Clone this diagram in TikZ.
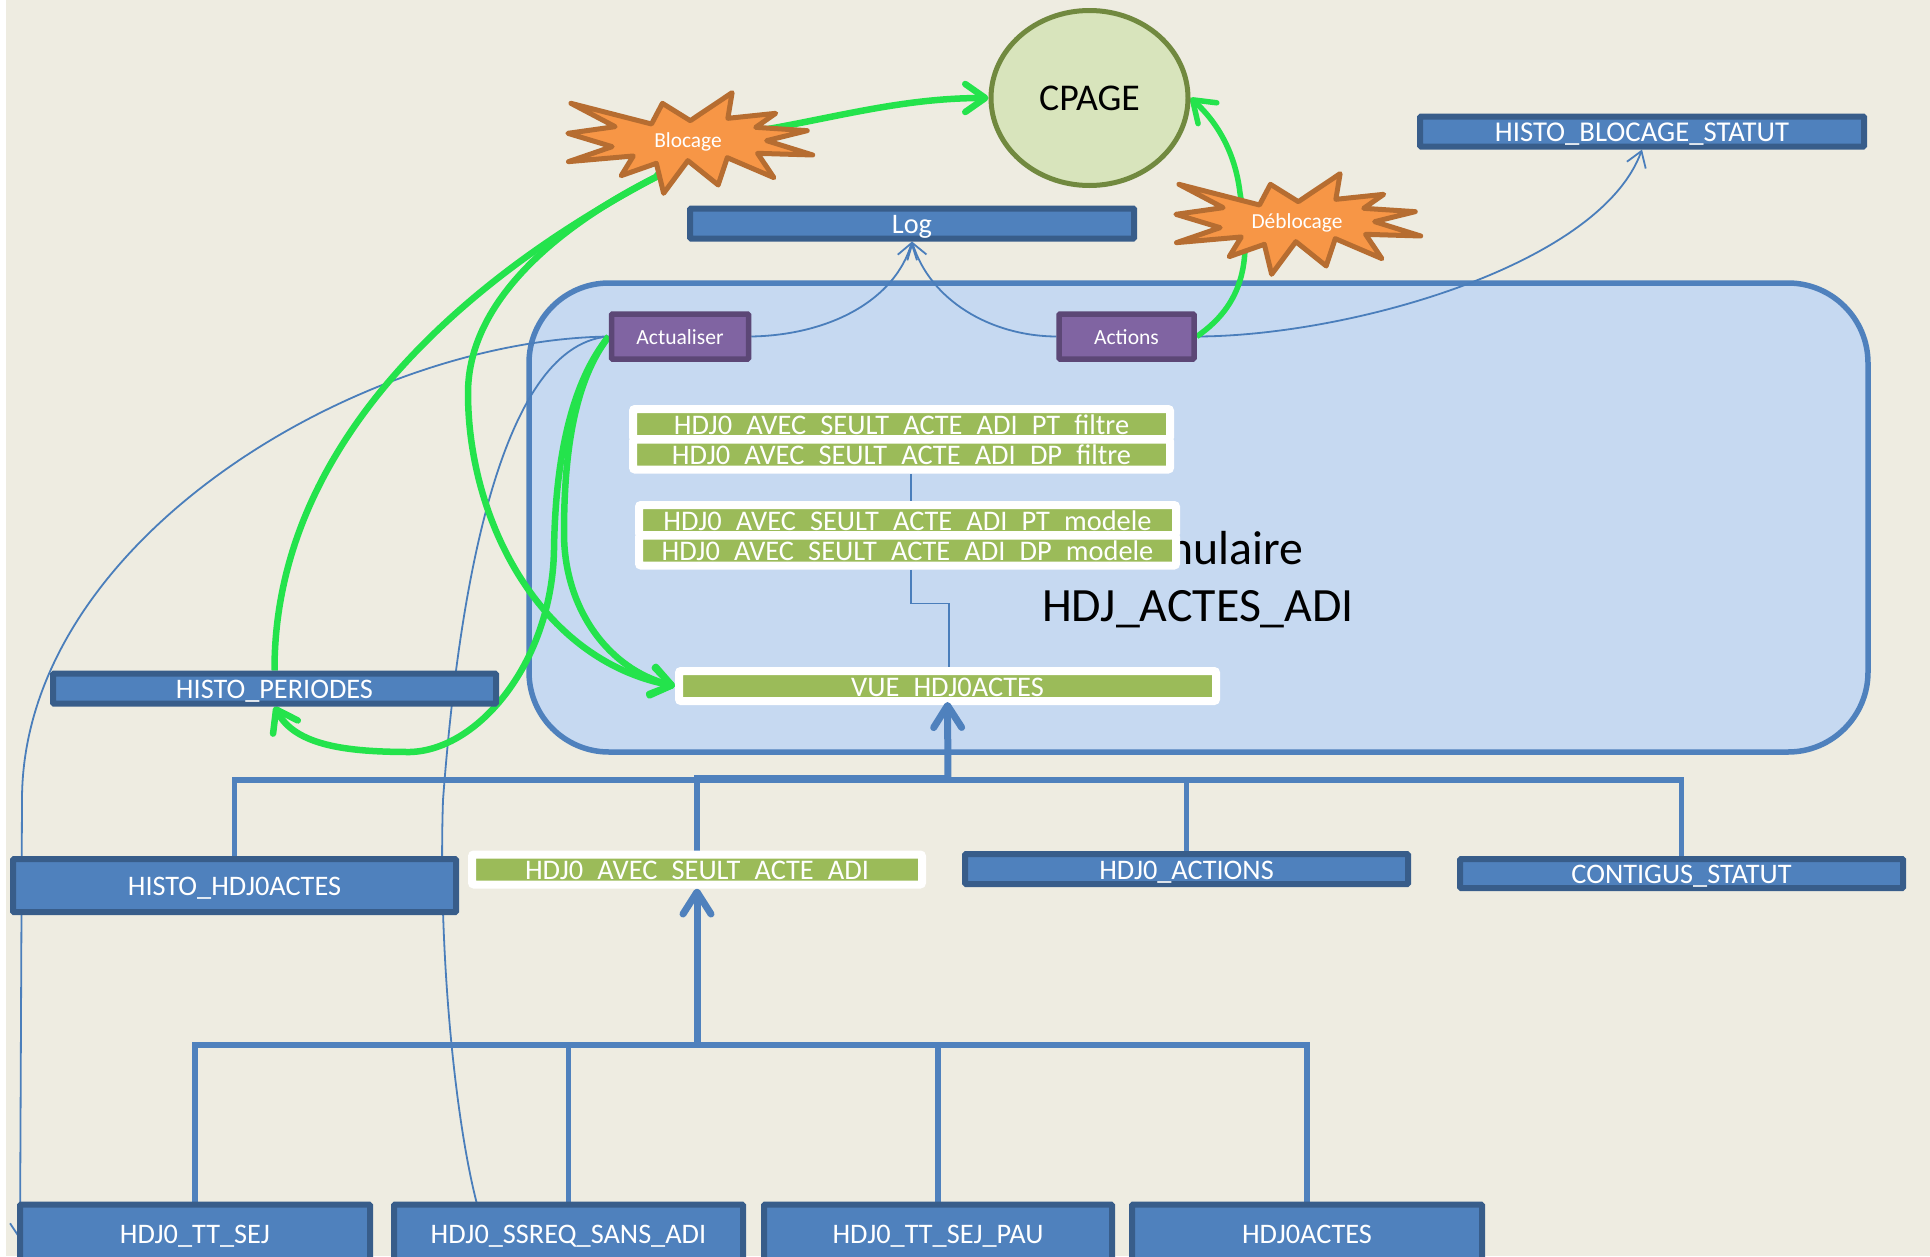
\documentclass[tikz,border=0pt]{standalone}
\usepackage{fontspec}
\setmainfont{Carlito}
\usetikzlibrary{shapes.geometric,arrows.meta}
\pgfdeclarelayer{bgl}
\pgfdeclarelayer{conn}
\pgfdeclarelayer{over}
\pgfsetlayers{bgl,conn,main,over}
\definecolor{bgbeige}{HTML}{EEECE1}
\definecolor{panelfill}{HTML}{C6D9F1}
\definecolor{blueline}{HTML}{4F81BD}
\definecolor{bluedark}{HTML}{385D8A}
\definecolor{thinblue}{HTML}{4A7EBB}
\definecolor{purplefill}{HTML}{8064A2}
\definecolor{purpledark}{HTML}{5C4776}
\definecolor{greenfill}{HTML}{9BBB59}
\definecolor{arrowgreen}{HTML}{24E34C}
\definecolor{cpagefill}{HTML}{D8E4BC}
\definecolor{cpageline}{HTML}{71893F}
\definecolor{burstfill}{HTML}{F79646}
\definecolor{burstline}{HTML}{B66D31}
\tikzset{
  bluebox/.style={rectangle,fill=blueline,draw=bluedark,line width=6pt,rounded corners=1pt,inner sep=0pt,text=white,
    font=\fontsize{28.3pt}{30pt}\selectfont,text height=20pt,text depth=0pt,minimum width=#1},
  purplebox/.style={rectangle,fill=purplefill,draw=purpledark,line width=5.5pt,rounded corners=1pt,inner sep=0pt,text=white,
    font=\fontsize{21.6pt}{23pt}\selectfont,text height=15.5pt,text depth=0pt,minimum width=#1,minimum height=45pt},
  greenbox/.style={rectangle,fill=greenfill,draw=white,line width=8pt,rounded corners=2pt,inner sep=0pt,text=white,
    font=\fontsize{28.4pt}{30pt}\selectfont,text height=20pt,text depth=0pt,minimum width=#1,minimum height=30pt},
  burstlabel/.style={inner sep=0pt,text=white,font=\fontsize{21.4pt}{23pt}\selectfont,text height=15.5pt,text depth=0pt},
  burstshape/.style={fill=burstfill,draw=burstline,line width=5pt,line join=round},
  thin/.style={draw=thinblue,line width=1.8pt},
  thinarrow/.style={thin,-{Straight Barb[length=15pt,width=20pt]}},
  greenline/.style={draw=arrowgreen,line width=6.5pt},
  greenarrow/.style={greenline,-{Straight Barb[length=20pt,width=28pt,round]}},
  busline/.style={draw=blueline,line width=5.5pt},
  busarrow/.style={draw=blueline,line width=7pt,-{Straight Barb[length=22pt,width=28pt,round]}},
}
\newcommand{\burstpath}{(117,310)--(250,372)--(268,310)--(314,362)--(383,278)--(376,355)--(455,340)--(422,382)--(507,392)--(440,422)--(516,465)--(425,460)--(452,533)--(375,473)--(360,555)--(310,482)--(270,580)--(258,490)--(200,527)--(220,468)--(113,485)--(185,440)--(112,400)--(190,380)--cycle}
\begin{document}
\begin{tikzpicture}[x=1pt,y=-1pt]
\useasboundingbox (0,0) rectangle (1930,1256);
\clip (0,0) rectangle (1930,1256);
\begin{pgfonlayer}{bgl}
  \fill[white] (0,0) rectangle (1930,1256);
  \fill[bgbeige] (6,0) rectangle (1930,1256);
  \draw[fill=panelfill,draw=blueline,line width=5.5pt,rounded corners=80pt] (529,283) rectangle (1868,752);
  \node[align=center,font=\fontsize{47.8pt}{57pt}\selectfont,inner sep=0pt] (formtitle) at (1198,579.5) {Formulaire\\HDJ\_ACTES\_ADI};
\end{pgfonlayer}

% nodes
\node[ellipse,fill=cpagefill,draw=cpageline,line width=5pt,minimum width=197pt,minimum height=175pt,inner sep=0pt,
  font=\fontsize{37.8pt}{40pt}\selectfont,text height=25pt,text depth=0pt] (cpage) at (1089.5,98) {CPAGE};
\node[bluebox=444pt,minimum height=30pt,font=\fontsize{28.7pt}{30pt}\selectfont] (histb) at (1642,131.5) {HISTO\_BLOCAGE\_STATUT};
\node[bluebox=444pt,minimum height=30pt] (log) at (912,223.5) {Log};
\node[bluebox=443pt,minimum height=30pt] (histp) at (274.5,688.5) {HISTO\_PERIODES};
\node[bluebox=443pt,minimum height=53pt] (hhist) at (234.5,885.5) {HISTO\_HDJ0ACTES};
\node[bluebox=443pt,minimum height=30pt] (hactions) at (1186.5,869) {HDJ0\_ACTIONS};
\node[bluebox=443pt,minimum height=29pt] (contig) at (1681.5,873.5) {CONTIGUS\_STATUT};
\node[bluebox=350pt,minimum height=57pt] (tt) at (195,1233) {HDJ0\_TT\_SEJ};
\node[bluebox=349pt,minimum height=57pt] (ss) at (568.5,1233) {HDJ0\_SSREQ\_SANS\_ADI};
\node[bluebox=348pt,minimum height=57pt] (pau) at (938,1233) {HDJ0\_TT\_SEJ\_PAU};
\node[bluebox=350pt,minimum height=57pt] (act) at (1307,1233) {HDJ0ACTES};
\node[purplebox=137pt] (actu) at (680,336.5) {Actualiser};
\node[purplebox=135pt] (actions) at (1126.5,336.5) {Actions};
\node[greenbox=537pt] (f1) at (901.5,424) {HDJ0\_AVEC\_SEULT\_ACTE\_ADI\_PT\_filtre};
\node[greenbox=537pt] (f2) at (901.5,454.5) {HDJ0\_AVEC\_SEULT\_ACTE\_ADI\_DP\_filtre};
\node[greenbox=537pt] (m1) at (907.5,520) {HDJ0\_AVEC\_SEULT\_ACTE\_ADI\_PT\_modele};
\node[greenbox=537pt] (m2) at (907.5,550.5) {HDJ0\_AVEC\_SEULT\_ACTE\_ADI\_DP\_modele};
\node[greenbox=537pt] (vue) at (947.5,686) {VUE\_HDJ0ACTES};
\node[greenbox=450pt] (avec) at (697,869.5) {HDJ0\_AVEC\_SEULT\_ACTE\_ADI};

\begin{scope}[shift={(500,0)},x=0.606pt,y=-0.3333pt]
  \draw[burstshape] \burstpath;
\end{scope}
\begin{scope}[shift={(1108,81)},x=0.606pt,y=-0.3333pt]
  \draw[burstshape] \burstpath;
\end{scope}
\node[burstlabel] (blocage) at (688,140) {Blocage};
\node[burstlabel] (deblocage) at (1297,221) {Déblocage};

\coordinate (busA) at (948,780);
\coordinate (busA2) at (948,777.5);
\coordinate (busB) at (697,1045);
\coordinate (blocOut) at (656,177);

\begin{pgfonlayer}{conn}
  % thin connectors
  \draw[thin] ([xshift=9.5pt]f2.south) -- ([xshift=3.5pt]m1.north);
  \draw[thin] ([xshift=3.5pt]m2.south) -- ++(0,34) -| ([xshift=1.5pt]vue.north);
  \draw[thinarrow] (actu.east) .. controls (830,335) and (895,300) .. (log.south);
  \draw[thinarrow] (actions.west) .. controls (990,336) and (930,300) .. (log.south);
  \draw[thinarrow] (actions.east) .. controls (1350,336) and (1600,265) .. (histb.south);
  \draw[thinarrow] (actu.west) .. controls (360,340) and (22,540) .. (22,800) -- (20,1240);
  \draw[thin] (actu.west) .. controls (490,345) and (455,640) .. (443,800) .. controls (438,950) and (455,1120) .. (477,1204);
  % buses
  \draw[busline] (hhist.north) |- (busA);
  \draw[busline] (avec.north) |- (busA2);
  \draw[busline] (hactions.north) |- (busA);
  \draw[busline] (contig.north) |- (busA);
  \draw[busline] (tt.north) |- (busB);
  \draw[busline] (ss.north) |- (busB);
  \draw[busline] (pau.north) |- (busB);
  \draw[busline] (act.north) |- (busB);
  \draw[busarrow] (busB) -- (avec.south);
  % green
  \draw[greenarrow] (blocage.center) .. controls (800,130) and (880,98) .. (cpage.west);
  \draw[greenarrow,line width=5.5pt] (actions.east) .. controls (1250,300) and (1250,250) .. (1240,193) .. controls (1235,150) and (1215,120) .. (cpage.east);
  \draw[greenarrow] (blocage.center) -- (blocOut) .. controls (560,225) and (468,300) .. (468,393) .. controls (468,520) and (540,660) .. (vue.west);
  \draw[greenline] (blocage.center) -- (blocOut) .. controls (470,275) and (274,440) .. (histp.north);
  \draw[greenarrow] (actu.west) .. controls (565,390) and (555,480) .. (554,550) .. controls (552,660) and (480,750) .. (410,752) .. controls (345,752) and (295,745) .. (histp.south);
  \draw[greenarrow] (actu.west) .. controls (575,380) and (564,450) .. (564,533) .. controls (564,610) and (610,670) .. (vue.west);
\end{pgfonlayer}
\begin{pgfonlayer}{over}
  \draw[busarrow] (busA) -- ([yshift=3pt]vue.south);
\end{pgfonlayer}
\end{tikzpicture}
\end{document}
